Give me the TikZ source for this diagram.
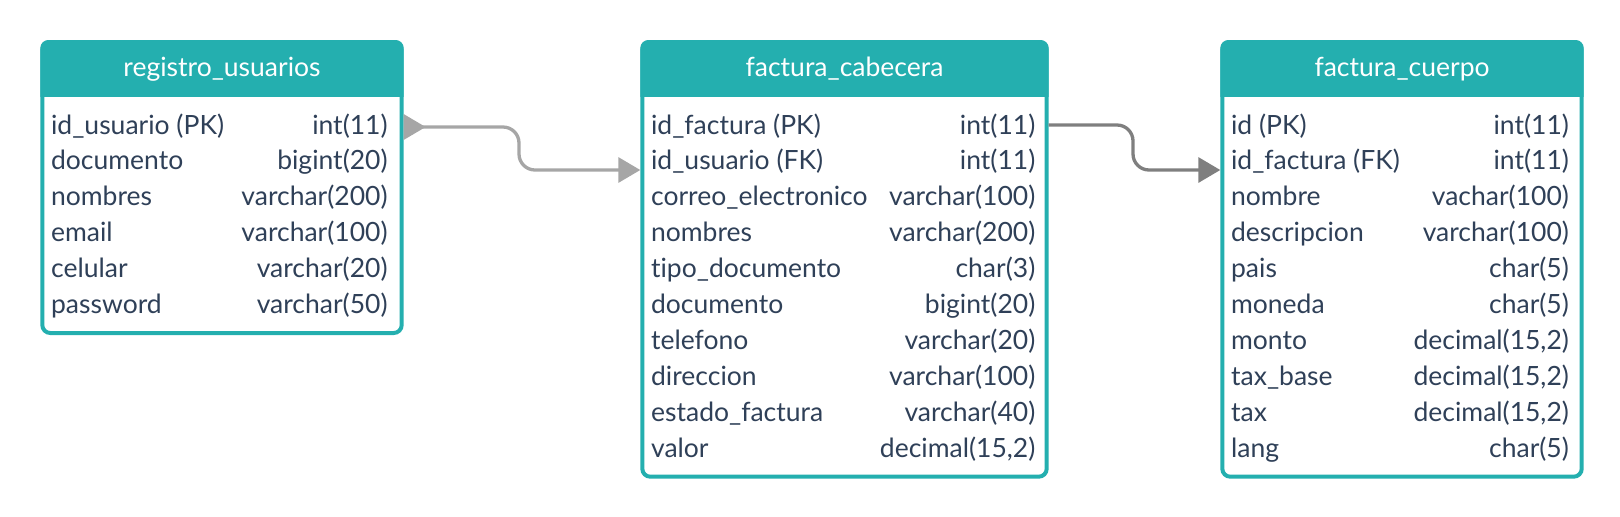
\documentclass[tikz,border=0pt]{standalone}
\usepackage{fontspec}
\setmainfont{Lato}[Ligatures=NoCommon]
\usetikzlibrary{arrows.meta}
\definecolor{tealc}{HTML}{24AFAF}
\definecolor{txtc}{HTML}{2F4058}
\definecolor{lgc}{HTML}{A6A6A6}
\definecolor{dgc}{HTML}{7F7F7F}
\tikzset{
  endtip/.tip={Triangle[width=12.5pt,length=11pt]},
  starttip/.tip={Triangle[reversed,width=12.5pt,length=11pt]}
}
\begin{document}
\begin{tikzpicture}[x=0.5pt,y=-0.5pt,
  tframe/.style={draw=tealc, line width=2pt, rounded corners=4pt, anchor=north west, inner sep=0pt, fill=white},
  fld/.style={anchor=base west, inner sep=0pt, text=txtc, font=\fontsize{13.25}{15}\selectfont},
  typ/.style={anchor=base east, inner sep=0pt, text=txtc, font=\fontsize{13.25}{15}\selectfont},
  ttl/.style={anchor=base, inner sep=0pt, text=white, font=\fontsize{13.25}{15}\selectfont},
  conn/.style={line width=1.65pt, rounded corners=8pt}]
\useasboundingbox (0,0) rectangle (1620,516);
% ---------- table 1
\node[tframe, minimum width=179.7pt, minimum height=145.5pt] (t1) at (40.3,40) {};
\begin{scope}
  \clip (t1.north west) rectangle (t1.east |- 0,96.7);
  \fill[tealc, rounded corners=4pt] (t1.north west) rectangle (t1.south east);
\end{scope}
\node[ttl] (t1t) at (t1.center |- 0,76.7) {registro\_usuarios};
\foreach \a/\b [count=\i] in {{id\_usuario (PK)}/{int(11)}, {documento}/{bigint(20)}, {nombres}/{varchar(200)}, {email}/{varchar(100)}, {celular}/{varchar(20)}, {password}/{varchar(50)}}{
  \node[fld] (t1f\i) at (50.7,{134+35.9*(\i-1)}) {\a};
  \node[typ] (t1y\i) at (388,{134+35.9*(\i-1)}) {\b};
}
% ---------- table 2
\node[tframe, minimum width=202.2pt, minimum height=217.35pt] (t2) at (640.3,40) {};
\begin{scope}
  \clip (t2.north west) rectangle (t2.east |- 0,96.7);
  \fill[tealc, rounded corners=4pt] (t2.north west) rectangle (t2.south east);
\end{scope}
\node[ttl] (t2t) at (t2.center |- 0,76.7) {factura\_cabecera};
\foreach \a/\b [count=\i] in {{id\_factura (PK)}/{int(11)}, {id\_usuario (FK)}/{int(11)}, {correo\_electronico}/{varchar(100)}, {nombres}/{varchar(200)}, {tipo\_documento}/{char(3)}, {documento}/{bigint(20)}, {telefono}/{varchar(20)}, {direccion}/{varchar(100)}, {estado\_factura}/{varchar(40)}, {valor}/{decimal(15,2)}}{
  \node[fld] (t2f\i) at (650.7,{134+35.9*(\i-1)}) {\a};
  \node[typ] (t2y\i) at (1035.7,{134+35.9*(\i-1)}) {\b};
}
% ---------- table 3
\node[tframe, minimum width=179.7pt, minimum height=217.35pt] (t3) at (1220.3,40) {};
\begin{scope}
  \clip (t3.north west) rectangle (t3.east |- 0,96.7);
  \fill[tealc, rounded corners=4pt] (t3.north west) rectangle (t3.south east);
\end{scope}
\node[ttl] (t3t) at (t3.center |- 0,76.7) {factura\_cuerpo};
\foreach \a/\b [count=\i] in {{id (PK)}/{int(11)}, {id\_factura (FK)}/{int(11)}, {nombre}/{vachar(100)}, {descripcion}/{varchar(100)}, {pais}/{char(5)}, {moneda}/{char(5)}, {monto}/{decimal(15,2)}, {tax\_base}/{decimal(15,2)}, {tax}/{decimal(15,2)}, {lang}/{char(5)}}{
  \node[fld] (t3f\i) at (1230.7,{134+35.9*(\i-1)}) {\a};
  \node[typ] (t3y\i) at (1569.3,{134+35.9*(\i-1)}) {\b};
}
% ---------- connectors
\coordinate (c1s) at (t1.east |- 0,127);
\coordinate (c1e) at (t2.west |- 0,170);
\coordinate (c2s) at (t2.east |- 0,125);
\coordinate (c2e) at (t3.west |- 0,170);
\draw[conn, lgc, starttip-endtip] (c1s) -- (519,127) -- (519,170) -- (c1e);
\draw[conn, dgc, -endtip] (c2s) -- (1133,125) -- (1133,170) -- (c2e);
\end{tikzpicture}
\end{document}
